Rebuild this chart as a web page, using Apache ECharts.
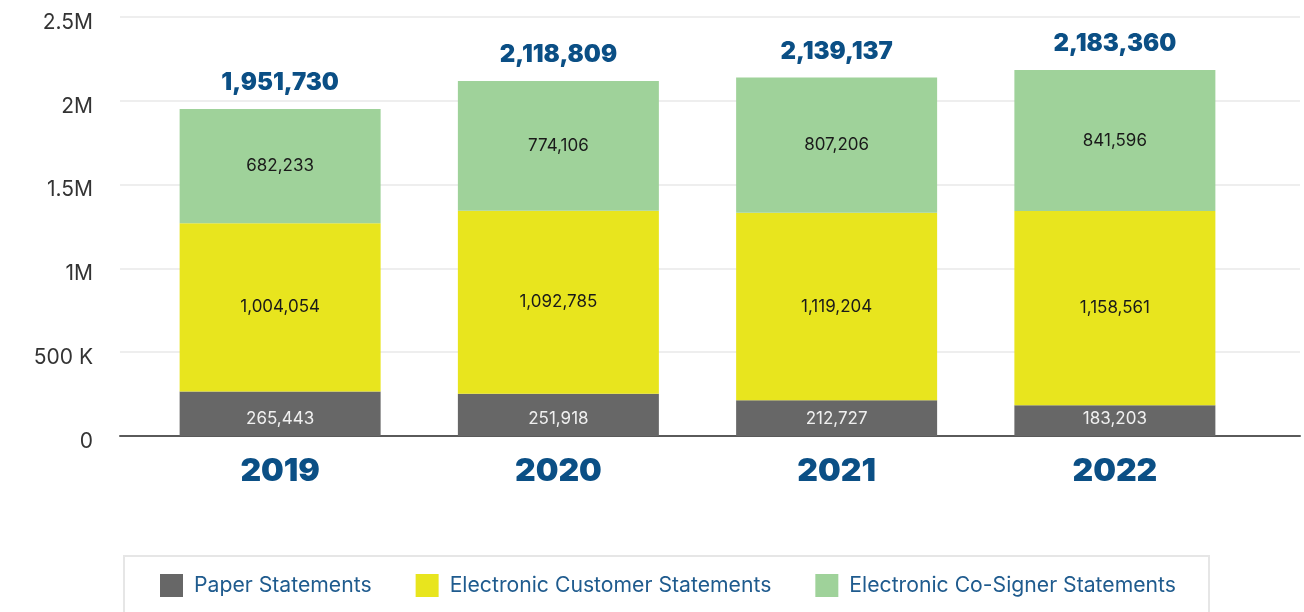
<!DOCTYPE html>
<html>
<head>
<meta charset="utf-8">
<script src="https://cdn.jsdelivr.net/npm/echarts@6/dist/echarts.min.js"></script>
<style>
  html, body { margin: 0; padding: 0; background: #fff; }
  #chart { width: 1304px; height: 612px; }
</style>
</head>
<body>
<div id="chart"></div>
<script>
// data
const years = ["2019", "2020", "2021", "2022"];
const paper = [265443, 251918, 212727, 183203];
const customer = [1004054, 1092785, 1119204, 1158561];
const cosigner = [682233, 774106, 807206, 841596];
const totals = [1951730, 2118809, 2139137, 2183360];
const yTicks = { 0: "0", 500000: "500 K", 1000000: "1M", 1500000: "1.5M", 2000000: "2M", 2500000: "2.5M" };

const blue = "#0b4f85";
const font = "Inter, Roboto, sans-serif";

let myEchart = echarts.init(document.getElementById("chart"));

function fmt(v) {
  return Number(v).toLocaleString("en-US");
}

let options = {
  animation: false,
  textStyle: { fontFamily: font },
  grid: [
    // wide grid: gridlines + baseline
    { left: 120, right: 4, top: 17, bottom: 176 },
    // narrow grid: bars
    { left: 141, right: 50, top: 17, bottom: 176 },
  ],
  legend: {
    left: 124,
    top: 556,
    padding: [18, 33, 18, 36],
    borderColor: "#e6e6e6",
    borderWidth: 2,
    itemWidth: 23,
    itemHeight: 23,
    itemGap: 44,
    icon: "rect",
    data: ["Paper Statements", "Electronic Customer Statements", "Electronic Co-Signer Statements"],
    textStyle: { color: "#1f5b8e", fontSize: 21.2, fontFamily: font, padding: [0, 0, 0, 6] },
  },
  xAxis: [
    {
      gridIndex: 0,
      type: "category",
      data: years,
      axisLine: { show: true, lineStyle: { color: "#5a5a5a", width: 2 } },
      axisTick: { show: false },
      axisLabel: { show: false },
    },
    {
      gridIndex: 1,
      type: "category",
      data: years,
      axisLine: { show: false },
      axisTick: { show: false },
      axisLabel: {
        color: blue,
        fontSize: 32,
        fontWeight: 900,
        fontFamily: font,
        margin: 19,
      },
    },
  ],
  yAxis: [
    {
      gridIndex: 0,
      type: "value",
      min: 0,
      max: 2500000,
      interval: 500000,
      axisLine: { show: false },
      axisTick: { show: false },
      axisLabel: {
        color: "#333",
        fontSize: 21,
        margin: 27,
        verticalAlign: "top",
        lineHeight: 11,
        formatter: function (v) {
          return yTicks[v] !== undefined ? yTicks[v] : v;
        },
      },
      splitLine: { lineStyle: { color: "#e8e8e8", width: 1.5 } },
    },
    {
      gridIndex: 1,
      type: "value",
      min: 0,
      max: 2500000,
      show: false,
    },
  ],
  series: [
    {
      name: "Paper Statements",
      type: "bar",
      stack: "total",
      xAxisIndex: 1,
      yAxisIndex: 1,
      barWidth: 201,
      itemStyle: { color: "#676767" },
      label: {
        show: true,
        position: "insideBottom",
        distance: 9,
        color: "#f0f0f0",
        fontSize: 17,
        formatter: (p) => fmt(p.value),
      },
      data: paper,
    },
    {
      name: "Electronic Customer Statements",
      type: "bar",
      stack: "total",
      xAxisIndex: 1,
      yAxisIndex: 1,
      barWidth: 201,
      itemStyle: { color: "#e8e51e" },
      label: {
        show: true,
        position: "inside",
        color: "#1a1a1a",
        fontSize: 17,
        formatter: (p) => fmt(p.value),
      },
      data: customer,
    },
    {
      name: "Electronic Co-Signer Statements",
      type: "bar",
      stack: "total",
      xAxisIndex: 1,
      yAxisIndex: 1,
      barWidth: 201,
      itemStyle: { color: "#9fd29a" },
      label: {
        show: true,
        position: "inside",
        color: "#1a1a1a",
        fontSize: 17,
        formatter: (p) => fmt(p.value),
      },
      data: cosigner,
    },
    {
      // totals on top
      name: "Total",
      type: "scatter",
      xAxisIndex: 1,
      yAxisIndex: 1,
      symbolSize: 0,
      silent: true,
      itemStyle: { opacity: 1 },
      label: {
        show: true,
        position: "top",
        distance: 14,
        color: blue,
        fontSize: 24,
        fontWeight: 900,
        formatter: (p) => fmt(p.value),
      },
      data: totals,
    },
  ],
};

myEchart.setOption(options);
window.addEventListener("resize", function () {
  myEchart.resize();
});
</script>
</body>
</html>
